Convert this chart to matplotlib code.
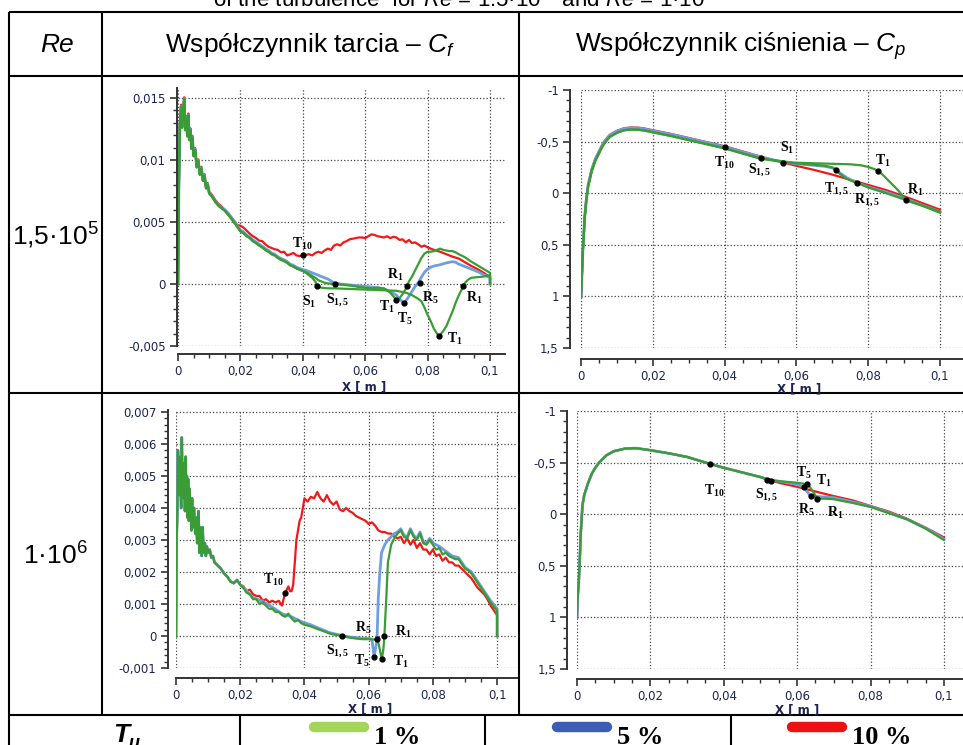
import numpy as np
import matplotlib
matplotlib.use("Agg")
import matplotlib.pyplot as plt
from matplotlib.ticker import FixedLocator, MultipleLocator, FuncFormatter

plt.rcParams['font.family'] = ['Liberation Sans', 'DejaVu Sans']
plt.rcParams['mathtext.fontset'] = 'custom'
plt.rcParams['mathtext.rm'] = 'Liberation Sans'
plt.rcParams['mathtext.it'] = 'Liberation Sans:italic'
plt.rcParams['mathtext.bf'] = 'Liberation Serif:bold'

# ---------- Re = 1,5e5, Cf (x in mm, Cf in 1e-3) ----------
cf1_lead_x = [0, 0.3, 0.6, 1.0, 1.3, 1.6, 2.0, 2.3, 2.6, 3.0, 3.3, 3.6, 4.0, 4.3, 4.6, 5.0, 5.5,
              6.0, 6.5, 7.0, 7.5, 8.0, 8.5, 9.0, 9.5, 10.0, 11.0, 12.0, 13.0, 14.0]
cf1_lead_y = [0, 8.0, 12.8, 14.3, 12.6, 13.9, 14.9, 12.4, 13.4, 11.9, 13.6, 11.6, 12.4, 10.9, 11.8,
              10.3, 10.8, 9.4, 9.9, 8.8, 9.3, 8.3, 8.7, 7.7, 8.0, 7.3, 7.0, 6.6, 6.3, 6.1]

cf1_red_x = [15, 16, 17, 18, 19, 20, 21, 22, 23, 24, 25, 26, 27, 28, 29, 30, 31, 32, 33, 34, 35, 36,
             37, 38, 39, 40, 41, 42, 43, 44, 45, 46, 47, 48, 49, 50, 51, 52, 53, 54, 55, 56, 57, 58,
             59, 60, 61, 62, 63, 64, 65, 66, 67, 68, 69, 70, 71, 72, 73, 74, 75, 76, 77, 78, 79, 80,
             82, 84, 86, 88, 90, 92, 94, 96, 98, 100, 100]
cf1_red_y = [5.95, 5.75, 5.4, 5.1, 4.75, 4.7, 4.55, 4.3, 4.05, 3.85, 3.7, 3.5, 3.45, 3.2, 3.0, 2.9,
             2.8, 2.75, 2.55, 2.6, 2.3, 2.4, 2.5, 2.3, 2.25, 2.3, 2.35, 2.4, 2.3, 2.5, 2.6, 2.5, 2.7,
             2.85, 2.75, 3.1, 3.2, 3.1, 3.35, 3.45, 3.6, 3.65, 3.7, 3.75, 3.75, 3.7, 3.85, 4.0, 3.95,
             3.85, 3.8, 3.75, 3.85, 3.7, 3.8, 3.75, 3.55, 3.6, 3.35, 3.55, 3.3, 3.35, 3.2, 3.0, 3.1,
             2.95, 2.75, 2.6, 2.4, 2.2, 2.05, 1.75, 1.45, 1.2, 0.9, 0.55, 0]

cf1_mid_x = [15, 16, 17, 18, 19, 20, 21, 22, 23, 24, 25, 26, 27, 28, 29, 30, 31, 32, 33, 34, 35, 36,
             37, 38, 39, 40]
cf1_mid_y = [5.9, 5.6, 5.3, 4.95, 4.6, 4.25, 4.1, 3.85, 3.7, 3.45, 3.3, 3.1, 2.95, 2.75, 2.6, 2.4,
             2.3, 2.1, 1.95, 1.85, 1.7, 1.5, 1.4, 1.25, 1.15, 1.05]

cf1_blue_x = [41, 42, 43, 44, 45, 46, 47, 48, 50, 52, 54, 56, 58, 60, 62, 64, 66, 68, 70, 71, 72,
              72.5, 73, 74, 75, 76, 77, 78, 79, 80, 81, 82, 84, 86, 88, 89, 90, 92, 94, 96, 98, 100, 100]
cf1_blue_y = [1.1, 1.0, 0.9, 0.8, 0.7, 0.6, 0.5, 0.4, 0.1, 0.0, -0.05, -0.1, -0.15, -0.2, -0.25,
              -0.3, -0.4, -0.6, -0.9, -1.2, -1.45, -1.5, -1.35, -1.0, -0.6, -0.2, 0.1, 0.55, 0.95,
              1.2, 1.35, 1.45, 1.55, 1.7, 1.8, 1.75, 1.6, 1.4, 1.2, 1.0, 0.75, 0.5, 0]

cf1_greenA_x = [41, 42, 43, 44, 45, 46, 47, 48, 50, 52, 54, 56, 58, 60, 62, 64, 66, 67, 68, 69, 70,
                71, 72, 73, 73.5, 74, 75, 76, 77, 78, 79, 80, 81, 82, 83, 84, 85, 86, 87, 88, 89, 90,
                92, 94, 96, 98, 100, 100]
cf1_greenA_y = [0.95, 0.8, 0.65, 0.5, 0.3, 0.2, 0.1, 0.05, 0.0, -0.05, -0.1, -0.15, -0.25, -0.3,
                -0.35, -0.3, -0.35, -0.5, -0.7, -1.0, -1.25, -1.15, -0.8, -0.4, -0.15, 0.2, 0.6,
                1.1, 1.6, 2.1, 2.45, 2.6, 2.6, 2.65, 2.75, 2.85, 2.75, 2.7, 2.65, 2.65, 2.55, 2.4,
                2.15, 1.8, 1.5, 1.2, 0.9, 0]

cf1_greenB_x = [41, 42, 43, 44, 44.7, 46, 48, 50, 55, 60, 65, 70, 73, 75, 77, 78, 79, 80, 81, 82, 83,
                83.6, 84, 85, 86, 87, 88, 89, 90, 91, 91.4, 92, 93, 94, 96, 98, 100, 100]
cf1_greenB_y = [0.9, 0.7, 0.5, 0.2, -0.2, -0.3, -0.35, -0.35, -0.4, -0.45, -0.5, -0.55, -0.7, -0.9,
                -1.2, -1.4, -1.9, -2.5, -3.0, -3.6, -4.0, -4.15, -4.1, -3.8, -3.4, -2.8, -2.2, -1.5,
                -0.9, -0.4, -0.15, 0.1, 0.35, 0.5, 0.55, 0.6, 0.7, 0]

cf1_pts_x = [40.2, 44.7, 50.4, 70.0, 73.5, 72.3, 77.4, 83.6, 91.4]
cf1_pts_y = [2.3, -0.2, 0.0, -1.28, -0.16, -1.5, 0.08, -4.2, -0.16]
cf1_lab = [('T', '10', 39.9, 3.2), ('S', '1', 42.1, -1.4), ('S', '1,5', 51.1, -1.3),
           ('R', '1', 69.7, 0.76), ('T', '1', 67.0, -1.8), ('T', '5', 72.6, -2.8),
           ('R', '5', 81.0, -1.1), ('R', '1', 95.0, -1.1), ('T', '1', 88.6, -4.4)]

# ---------- Re = 1,5e5, Cp ----------
cp1_lead_x = [0, 0.3, 0.5, 0.8, 1.0, 1.5, 2.0, 3.0, 4.0, 5.0, 6.0, 7.0, 8.0, 10, 12, 14, 16, 18, 20,
              25, 30, 35, 40, 45, 50]
cp1_lead_y = [1.0, 0.75, 0.56, 0.38, 0.24, 0.05, -0.08, -0.23, -0.33, -0.40, -0.47, -0.52, -0.56,
              -0.60, -0.625, -0.632, -0.63, -0.62, -0.605, -0.57, -0.53, -0.49, -0.45, -0.40, -0.35]
cp1_red_x = [55, 60, 65, 70, 75, 80, 85, 90, 95, 100]
cp1_red_y = [-0.31, -0.265, -0.225, -0.18, -0.13, -0.08, -0.03, 0.03, 0.095, 0.16]
cp1_blue_x = [55, 60, 65, 68, 70, 71, 72, 74, 76, 77, 80, 85, 90, 95, 100]
cp1_blue_y = [-0.31, -0.285, -0.27, -0.26, -0.245, -0.23, -0.2, -0.15, -0.115, -0.10, -0.06, -0.01,
              0.05, 0.115, 0.18]
cp1_greenA_x = [55, 60, 65, 68, 70, 71, 72, 74, 76, 77, 80, 85, 90, 95, 100]
cp1_greenA_y = [-0.315, -0.29, -0.275, -0.265, -0.25, -0.23, -0.19, -0.14, -0.11, -0.1, -0.055,
                0.0, 0.06, 0.12, 0.19]
cp1_greenB_x = [55, 56.3, 60, 65, 70, 75, 78, 80, 82, 82.8, 84, 86, 88, 89, 90.5, 95, 100]
cp1_greenB_y = [-0.31, -0.30, -0.295, -0.29, -0.285, -0.28, -0.27, -0.255, -0.23, -0.215, -0.18,
                -0.11, -0.04, 0.0, 0.07, 0.12, 0.18]
cp1_pts_x = [40, 50.1, 56.3, 71.0, 76.9, 82.8, 90.5]
cp1_pts_y = [-0.452, -0.345, -0.297, -0.229, -0.103, -0.216, 0.07]
cp1_lab = [('S', '1', 57.3, -0.44), ('T', '10', 40.0, -0.297), ('S', '1,5', 49.7, -0.232),
           ('T', '1', 84.2, -0.313), ('T', '1,5', 71.2, -0.048), ('R', '1', 93.1, -0.032),
           ('R', '1,5', 79.7, 0.065)]

# ---------- Re = 1e6, Cf ----------
cf2_lead_x = [0, 0.2, 0.4, 0.6, 0.8, 1.0, 1.2, 1.4, 1.6, 1.8, 2.0, 2.2, 2.4, 2.6, 2.8, 3.0, 3.2, 3.4,
              3.6, 3.8, 4.0, 4.2, 4.4, 4.6, 4.8, 5.0, 5.3, 5.6, 6.0, 6.3, 6.6, 7.0, 7.3, 7.6, 8.0, 8.3,
              8.6, 9.0, 9.3, 9.6, 10.0, 10.5, 11, 11.5, 12, 13, 14, 15, 16, 17, 18, 19, 20]
cf2_lead_y = [0, 3.0, 3.8, 5.8, 4.6, 5.6, 4.4, 5.2, 4.0, 6.2, 4.8, 5.4, 4.3, 5.0, 3.9, 5.6, 4.2, 5.0,
              3.7, 4.9, 3.6, 4.6, 3.7, 4.2, 3.3, 4.3, 3.4, 4.0, 3.2, 3.7, 2.9, 3.9, 2.6, 3.4, 2.5, 3.4,
              2.6, 2.9, 2.5, 2.8, 2.6, 2.7, 2.45, 2.5, 2.3, 2.2, 2.1, 1.95, 1.85, 1.7, 1.65, 1.75, 1.6]
cf2_red_x = [21, 22, 23, 24, 25, 26, 27, 28, 29, 30, 31, 32, 33, 33.5, 34, 35, 35.5, 36, 36.5, 37,
             37.5, 38, 38.5, 39, 40, 41, 42, 43, 44, 45, 46, 47, 48, 49, 50, 51, 52, 53, 54, 55, 56,
             57, 58, 59, 60, 61, 62, 63, 64, 65, 66, 67, 68, 69, 70, 71, 72, 73, 74, 75, 76, 77, 78,
             79, 80, 81, 82, 83, 84, 85, 86, 87, 88, 89, 90, 91, 92, 93, 94, 95, 96, 97, 98, 99, 100,
             100]
cf2_red_y = [1.55, 1.4, 1.45, 1.3, 1.25, 1.25, 1.1, 1.15, 1.05, 1.1, 1.05, 1.1, 0.95, 1.15, 1.35,
             1.55, 1.4, 1.4, 1.6, 2.3, 3.0, 3.3, 3.6, 3.7, 4.3, 4.2, 4.35, 4.3, 4.5, 4.3, 4.2, 4.4,
             4.2, 4.1, 4.2, 3.95, 3.9, 4.0, 3.9, 3.85, 3.75, 3.7, 3.65, 3.6, 3.5, 3.55, 3.45, 3.3,
             3.25, 3.25, 3.2, 3.2, 3.1, 3.05, 3.1, 2.9, 3.05, 2.85, 3.0, 2.75, 2.9, 2.7, 2.7, 2.55,
             2.7, 2.5, 2.55, 2.35, 2.45, 2.3, 2.3, 2.2, 2.2, 2.1, 2.0, 1.9, 1.8, 1.65, 1.5, 1.4, 1.3,
             1.15, 0.95, 0.8, 0.65, 0]
cf2_green_x = [21, 22, 23, 24, 25, 26, 27, 28, 29, 30, 31, 32, 33, 34, 35, 36, 37, 38, 39, 40, 42,
               44, 46, 48, 50, 51.7, 54, 56, 58, 60, 62, 63, 64.1, 64.6, 64.9, 65.5, 66, 67, 68, 69,
               70, 71, 72, 73, 74, 75, 76, 77, 78, 79, 80, 81, 82, 83, 84, 85, 86, 87, 88, 89, 90,
               91, 92, 93, 94, 95, 96, 97, 98, 99, 100, 100]
cf2_green_y = [1.5, 1.35, 1.3, 1.15, 1.15, 1.0, 1.05, 0.95, 0.85, 0.85, 0.75, 0.75, 0.65, 0.6, 0.7,
               0.55, 0.45, 0.5, 0.4, 0.35, 0.3, 0.22, 0.15, 0.07, 0.03, 0.0, -0.05, -0.08, -0.1,
               -0.1, -0.11, -0.2, -0.73, -0.4, 0.0, 1.2, 2.3, 2.85, 3.05, 3.2, 3.3, 3.1, 3.05, 3.3,
               3.1, 3.0, 3.2, 2.9, 2.85, 3.0, 2.85, 2.7, 2.75, 2.55, 2.6, 2.5, 2.45, 2.4, 2.4, 2.25,
               2.1, 2.05, 1.95, 1.8, 1.65, 1.5, 1.35, 1.2, 1.05, 0.9, 0.8, 0]
cf2_blue_x = [21, 24, 27, 30, 33, 36, 39, 42, 45, 48, 51, 54, 57, 60, 61, 61.7, 62.3, 62.6, 63,
              63.5, 64, 65, 66, 67, 68, 69, 70, 71, 72, 73, 74, 75, 76, 77, 78, 79, 80, 82, 84, 86,
              88, 90, 92, 94, 96, 98, 100, 100]
cf2_blue_y = [1.52, 1.2, 1.08, 0.9, 0.7, 0.6, 0.45, 0.35, 0.22, 0.1, 0.03, -0.03, -0.06, -0.08,
              -0.1, -0.66, -0.3, -0.1, 1.2, 2.0, 2.6, 2.85, 3.0, 3.1, 3.2, 3.25, 3.35, 3.15, 3.1,
              3.35, 3.15, 3.05, 3.25, 2.95, 2.9, 3.05, 2.9, 2.8, 2.65, 2.5, 2.45, 2.15, 2.0, 1.7,
              1.4, 1.1, 0.85, 0]
cf2_pts_x = [33.9, 51.7, 61.7, 62.6, 64.1, 64.9]
cf2_pts_y = [1.35, 0.0, -0.66, -0.1, -0.73, 0.0]
cf2_lab = [('T', '10', 30.4, 1.77), ('R', '5', 58.4, 0.26), ('R', '1', 70.9, 0.12),
           ('S', '1,5', 50.3, -0.45), ('T', '5', 57.9, -0.78), ('T', '1', 70.1, -0.81)]

# ---------- Re = 1e6, Cp ----------
cp2_lead_x = [0, 0.2, 0.5, 0.8, 1.0, 1.5, 2.0, 3.0, 4.0, 5.0, 6.0, 8.0, 10, 13, 16, 20, 25, 30,
              36, 40, 45, 50]
cp2_lead_y = [1.0, 0.8, 0.65, 0.4, 0.2, -0.09, -0.19, -0.3, -0.39, -0.45, -0.5, -0.57, -0.61,
              -0.635, -0.64, -0.62, -0.59, -0.555, -0.49, -0.45, -0.405, -0.36]
cp2_red_x = [55, 60, 65, 70, 75, 80, 85, 90, 95, 100]
cp2_red_y = [-0.305, -0.265, -0.22, -0.175, -0.135, -0.08, -0.025, 0.045, 0.13, 0.225]
cp2_blue_x = [52, 55, 60, 61.8, 63.7, 66, 70, 75, 80, 85, 90, 95, 100]
cp2_blue_y = [-0.335, -0.32, -0.29, -0.26, -0.175, -0.17, -0.16, -0.12, -0.075, -0.015, 0.05,
              0.135, 0.24]
cp2_green_x = [52, 55, 60, 62.7, 63.5, 64.5, 65.5, 68, 70, 72, 75, 80, 85, 90, 95, 100]
cp2_green_y = [-0.335, -0.32, -0.305, -0.29, -0.26, -0.21, -0.15, -0.15, -0.145, -0.13, -0.11,
               -0.07, -0.01, 0.05, 0.14, 0.25]
cp2_pts_x = [36.2, 51.8, 53.0, 61.8, 62.7, 63.7, 65.5]
cp2_pts_y = [-0.49, -0.336, -0.32, -0.259, -0.288, -0.175, -0.146]
cp2_lab = [('T', '10', 37.4, -0.224), ('S', '1,5', 51.8, -0.191), ('T', '5', 61.9, -0.404),
           ('T', '1', 67.4, -0.323), ('R', '5', 62.4, -0.046), ('R', '1', 70.5, -0.017)]

RED = '#f01818'
BLUE = '#6e9ee0'
GREEN = '#3a9c34'
TXT = '#1c2452'

W, H = 963, 745
fig = plt.figure(figsize=(W / 100, H / 100), dpi=100)

bg = fig.add_axes([0, 0, 1, 1], zorder=0)
bg.set_xlim(0, W)
bg.set_ylim(H, 0)
bg.axis('off')


def rect(l, t, r, b):
    return [l / W, 1 - b / H, (r - l) / W, (b - t) / H]


def fmt(v, pos):
    s = ('%.4f' % v).rstrip('0').rstrip('.')
    if s in ('-0', ''):
        s = '0'
    return s.replace('.', ',')


def setup(ax, xmax, ylim, ymaj, ymin, left_off, bot_off):
    ax.set_xlim(0, xmax)
    ax.set_ylim(*ylim)
    for s in ['top', 'right']:
        ax.spines[s].set_visible(False)
    ax.spines['left'].set_position(('outward', left_off))
    ax.spines['bottom'].set_position(('outward', bot_off))
    for s in ['left', 'bottom']:
        ax.spines[s].set_linewidth(1.4)
        ax.spines[s].set_color('#333333')
    ax.xaxis.set_major_locator(FixedLocator([0, 0.02, 0.04, 0.06, 0.08, 0.1]))
    ax.xaxis.set_minor_locator(FixedLocator(np.arange(0, 0.1001, 0.005)))
    ax.yaxis.set_major_locator(MultipleLocator(ymaj))
    ax.yaxis.set_minor_locator(MultipleLocator(ymin))
    ax.xaxis.set_major_formatter(FuncFormatter(fmt))
    ax.yaxis.set_major_formatter(FuncFormatter(fmt))
    ax.tick_params(which='major', direction='out', length=5, width=1.2, color='#333333',
                   labelsize=8.5, labelcolor=TXT, pad=3, labelfontfamily='DejaVu Sans')
    ax.tick_params(which='minor', direction='out', length=3, width=1, color='#333333')
    ax.grid(True, which='major', linestyle=':', color='#444444', linewidth=0.9)
    ax.set_axisbelow(True)
    ax.set_xlabel('X [ m ]', fontsize=8.5, fontweight='bold', color=TXT,
                  family='DejaVu Sans', va='center')
    ax.xaxis.set_label_coords(0.57, -0.16)


def labels(ax, items, scale):
    for letter, sub, x, y in items:
        ax.text(x / 1000, y * scale, r'$\mathbf{%s}_{\mathbf{%s}}$' % (letter, sub),
                fontsize=10, ha='center', va='center', color='black', zorder=6)


def mm(v):
    return np.array(v) / 1000.0


def e3(v):
    return np.array(v) / 1000.0


lw = 1.6

# --- top left: Cf, Re = 1.5e5
ax1 = fig.add_axes(rect(178, 88, 505, 346), zorder=2)
ax1.plot(mm(cf1_lead_x + cf1_red_x), e3([v + 0.15 for v in cf1_lead_y] + cf1_red_y), color=RED, lw=lw)
ax1.plot(mm(cf1_lead_x + cf1_mid_x + cf1_blue_x),
         e3([v + 0.05 for v in cf1_lead_y] + [v + 0.1 for v in cf1_mid_y] + cf1_blue_y),
         color=BLUE, lw=lw + 0.4)
ax1.plot(mm(cf1_lead_x + cf1_mid_x + cf1_greenB_x), e3(cf1_lead_y + cf1_mid_y + cf1_greenB_y),
         color=GREEN, lw=lw)
ax1.plot(mm(cf1_lead_x + cf1_mid_x + cf1_greenA_x), e3(cf1_lead_y + cf1_mid_y + cf1_greenA_y),
         color=GREEN, lw=lw)
ax1.plot(mm(cf1_pts_x), e3(cf1_pts_y), 'o', color='black', ms=3.5, zorder=5)
labels(ax1, cf1_lab, 1e-3)
setup(ax1, 0.1048, (-0.005, 0.0158), 0.005, 0.001, 1, 6)

# --- top right: Cp, Re = 1.5e5
ax2 = fig.add_axes(rect(581, 90, 963, 348), zorder=2)
ax2.plot(mm(cp1_lead_x + cp1_red_x), [v - 0.005 for v in cp1_lead_y] + cp1_red_y, color=RED, lw=lw)
ax2.plot(mm(cp1_lead_x + cp1_blue_x), cp1_lead_y + cp1_blue_y, color=BLUE, lw=lw + 0.4)
ax2.plot(mm(cp1_lead_x + cp1_greenA_x), [v + 0.015 for v in cp1_lead_y] + cp1_greenA_y,
         color=GREEN, lw=lw)
ax2.plot(mm(cp1_lead_x + cp1_greenB_x), [v + 0.015 for v in cp1_lead_y] + cp1_greenB_y,
         color=GREEN, lw=lw)
ax2.plot(mm(cp1_pts_x), cp1_pts_y, 'o', color='black', ms=3.5, zorder=5)
labels(ax2, cp1_lab, 1)
setup(ax2, 0.1064, (1.5, -1), 0.5, 0.1, 8, 8)

# --- bottom left: Cf, Re = 1e6
ax3 = fig.add_axes(rect(176, 410, 517, 668), zorder=2)
ax3.plot(mm(cf2_lead_x + cf2_red_x), e3(cf2_lead_y + cf2_red_y), color=RED, lw=lw)
ax3.plot(mm(cf2_lead_x + cf2_blue_x), e3(cf2_lead_y + cf2_blue_y), color=BLUE, lw=lw + 0.4)
ax3.plot(mm(cf2_lead_x + cf2_green_x), e3(cf2_lead_y + cf2_green_y), color=GREEN, lw=lw)
ax3.plot(mm(cf2_pts_x), e3(cf2_pts_y), 'o', color='black', ms=3.5, zorder=5)
labels(ax3, cf2_lab, 1e-3)
setup(ax3, 0.1062, (-0.001, 0.00706), 0.001, 0.0002, 6, 7)

# --- bottom right: Cp, Re = 1e6
ax4 = fig.add_axes(rect(577, 411, 963, 669), zorder=2)
ax4.plot(mm(cp2_lead_x + cp2_red_x), cp2_lead_y + cp2_red_y, color=RED, lw=lw)
ax4.plot(mm(cp2_lead_x + cp2_blue_x), cp2_lead_y + cp2_blue_y, color=BLUE, lw=lw + 0.4)
ax4.plot(mm(cp2_lead_x + cp2_green_x), cp2_lead_y + cp2_green_y, color=GREEN, lw=lw)
ax4.plot(mm(cp2_pts_x), cp2_pts_y, 'o', color='black', ms=3.5, zorder=5)
labels(ax4, cp2_lab, 1)
setup(ax4, 0.1052, (1.5, -1), 0.5, 0.1, 7, 7)

# --- table frame
k = dict(color='black', lw=1.5, solid_capstyle='butt')
for y in [12, 76, 393, 715]:
    bg.plot([9, W], [y, y], **k)
for x in [9, 102, 519]:
    bg.plot([x, x], [12, 715 if x != 9 else H], **k)
for x in [240, 485, 731]:
    bg.plot([x, x], [715, H], **k)

# --- texts
bg.text(463, 7, 'of the turbulence  for $Re$ = 1.5·10$^5$  and $Re$ = 1·10$^6$',
        fontsize=16, ha='center', va='baseline')
bg.text(57, 52, 'Re', fontsize=19, style='italic', ha='center', va='baseline')
bg.text(310, 52, 'Współczynnik tarcia – $C_f$', fontsize=19, ha='center', va='baseline')
bg.text(741, 52, 'Współczynnik ciśnienia – $C_p$', fontsize=19, ha='center', va='baseline')
bg.text(55, 245, '1,5·10$^5$', fontsize=19, ha='center', va='baseline')
bg.text(55, 565, '1·10$^6$', fontsize=19, ha='center', va='baseline')

bg.text(121, 742, 'T', fontsize=19, style='italic', fontweight='bold', ha='center', va='baseline')
bg.text(134, 748, 'u', fontsize=13, style='italic', fontweight='bold', ha='center', va='baseline')

legend_items = [('#a3d658', '1 %', 310), ('#3d5db5', '5 %', 553), ('#ee1111', '10 %', 788)]
for col, txt, x0 in legend_items:
    bg.plot([x0 + 4, x0 + 54], [727, 727], color=col, lw=7.5, solid_capstyle='round')
    bg.text(x0 + 64, 744, txt, fontsize=19, fontweight='bold', family='Liberation Serif',
            ha='left', va='baseline')

fig.savefig('out.png', dpi=100)
